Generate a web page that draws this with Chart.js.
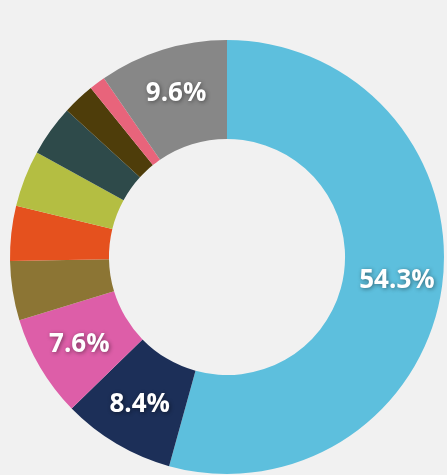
<!DOCTYPE html>
<html>
<head>
<meta charset="utf-8">
<script src="https://cdn.jsdelivr.net/npm/chart.js@4/dist/chart.umd.min.js"></script>
<style>
  html, body { margin: 0; padding: 0; background: #f1f1f1; }
  #wrap { width: 447px; height: 475px; }
</style>
</head>
<body>
<div id="wrap"><canvas id="c" width="447" height="475"></canvas></div>
<script>
const categories = ["A", "B", "C", "D", "E", "F", "G", "H", "I", "J"];
const values = [54.3, 8.4, 7.6, 4.4, 4.1, 4.2, 3.8, 2.4, 1.2, 9.6];
const colors = ["#5dbfdd", "#1c2f58", "#dd5ea8", "#8c7534", "#e5511e", "#b4be42", "#2e4a4a", "#4e3d0a", "#e8647b", "#878787"];
const labelThreshold = 5;

const labelPlugin = {
  id: 'sliceLabels',
  afterDatasetsDraw(chart) {
    const ctx = chart.ctx;
    const meta = chart.getDatasetMeta(0);
    ctx.save();
    ctx.font = 'bold 26px "Open Sans", sans-serif';
    ctx.fillStyle = '#ffffff';
    ctx.textAlign = 'center';
    ctx.textBaseline = 'middle';
    ctx.shadowColor = 'rgba(0,0,0,0.45)';
    ctx.shadowBlur = 4;
    ctx.shadowOffsetX = 1;
    ctx.shadowOffsetY = 1;
    meta.data.forEach((arc, i) => {
      const v = values[i];
      if (v < labelThreshold) return;
      const p = arc.getProps(['x', 'y', 'startAngle', 'endAngle', 'innerRadius', 'outerRadius'], true);
      const mid = (p.startAngle + p.endAngle) / 2;
      const r = (p.innerRadius + p.outerRadius) / 2 + 4;
      ctx.fillText(v.toFixed(1) + '%', p.x + Math.cos(mid) * r, p.y + Math.sin(mid) * r);
    });
    ctx.restore();
  }
};

new Chart(document.getElementById('c'), {
  type: 'doughnut',
  data: {
    labels: categories,
    datasets: [{
      data: values,
      backgroundColor: colors,
      borderWidth: 0
    }]
  },
  options: {
    responsive: false,
    animation: false,
    cutout: '54.4%',
    layout: { padding: { left: 10, right: 3, top: 40, bottom: 1 } },
    plugins: {
      legend: { display: false },
      tooltip: { enabled: false }
    }
  },
  plugins: [labelPlugin]
});
</script>
</body>
</html>
